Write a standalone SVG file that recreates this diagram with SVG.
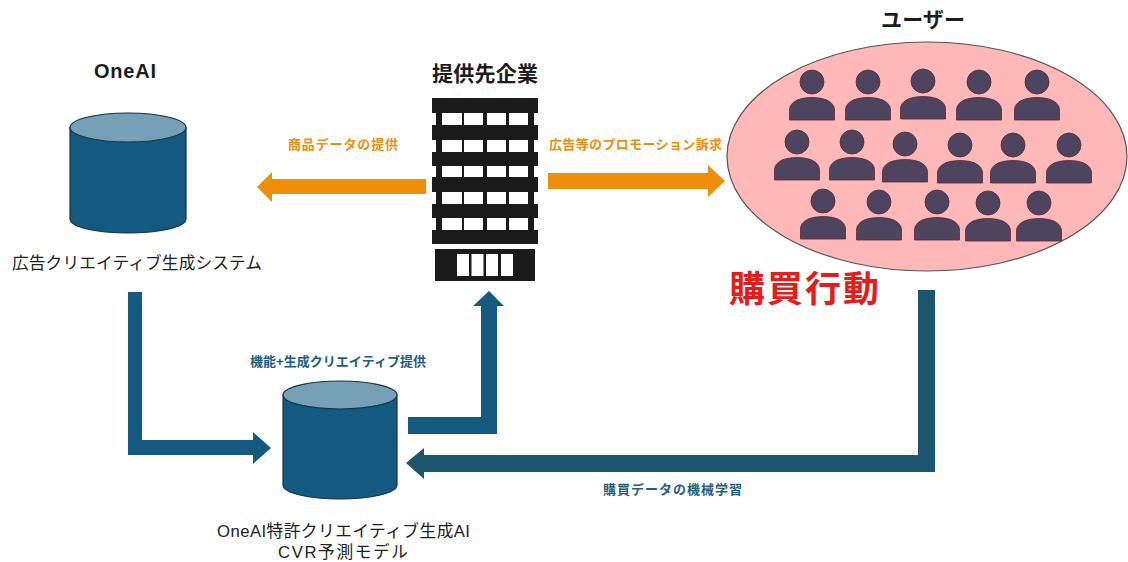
<svg xmlns="http://www.w3.org/2000/svg" xmlns:xlink="http://www.w3.org/1999/xlink" width="1128" height="562" viewBox="0 0 1128 562">
<style>
text{font-family:"Liberation Sans","Noto Sans CJK JP",sans-serif;text-anchor:middle;fill:#222}
.h{font-weight:700;fill:#1c1c1c}
.s{font-weight:700;font-size:13px}
.o{fill:#ee8e0b}
.b{fill:#1c5f80}
.cyl{fill:#14597f;stroke:#12354a;stroke-width:1.2}
.top{fill:#76a0b6;stroke:#12354a;stroke-width:1.2}
.p{fill:#4d4560;stroke:#5a2535;stroke-width:.8}
.win{fill:#fff}
</style>
<defs>
<g id="person"><circle cx="0" cy="0" r="12"/><path d="M-22.500 38V28C-22.500 20 -13 15.500 0 15.500S22.500 20 22.500 28V38Z"/></g>
</defs>
<rect width="1128" height="562" fill="#fff"/>
<g id="connectors">
<path id="c-provide" fill="#ee8e0b" d="M426 179H272V172L257 187L272 202V194H426Z"/>
<path id="c-promo" fill="#ee8e0b" d="M548 173H708V165L725 181L708 197V189H548Z"/>
<path id="c-gen" fill="#14597f" d="M128 292H142V440H253V432L271 448L253 464V455H128Z"/>
<path id="c-feature" fill="#14597f" d="M408 417H481V306H473L489 291L504 306H497V434H408Z"/>
<path id="c-learn" fill="#1c5570" d="M918 290H935V472H424V479L406 463L424 448V455H918Z"/>
</g>
<g id="node-oneai">
<text class="h" x="125" y="78" font-size="20" textLength="62">OneAI</text>
<path class="cyl" d="M70 127.500V219C70 227 96 233 128 233S186 227 186 219V127.500Z"/>
<ellipse class="top" cx="128" cy="127.500" rx="58" ry="14.500"/>
<text x="137" y="269" font-size="16.700" textLength="250">広告クリエイティブ生成システム</text>
</g>
<g id="node-company">
<text class="h" x="485" y="81" font-size="21" textLength="106">提供先企業</text>
<path fill="#1a1a1a" d="M432 98H538V113H534V125H538V140H534V152H538V166H534V177H538V192H534V204H538V218H534V230H538V244H432V230H436V218H432V204H436V192H432V177H436V166H432V152H436V140H432V125H436V113H432Z"/>
<g class="win">
<rect x="442" y="113" width="20" height="12"/><rect x="464" y="113" width="19" height="12"/><rect x="487" y="113" width="19" height="12"/><rect x="509" y="113" width="19" height="12"/>
<rect x="442" y="140" width="20" height="12"/><rect x="464" y="140" width="19" height="12"/><rect x="487" y="140" width="19" height="12"/><rect x="509" y="140" width="19" height="12"/>
<rect x="442" y="166" width="20" height="11"/><rect x="464" y="166" width="19" height="11"/><rect x="487" y="166" width="19" height="11"/><rect x="509" y="166" width="19" height="11"/>
<rect x="442" y="192" width="20" height="12"/><rect x="464" y="192" width="19" height="12"/><rect x="487" y="192" width="19" height="12"/><rect x="509" y="192" width="19" height="12"/>
<rect x="442" y="218" width="20" height="12"/><rect x="464" y="218" width="19" height="12"/><rect x="487" y="218" width="19" height="12"/><rect x="509" y="218" width="19" height="12"/>
</g>
<rect x="435" y="249" width="100" height="32" fill="#1a1a1a"/>
<g class="win">
<rect x="457" y="254" width="12" height="22"/><rect x="471.500" y="254" width="12" height="22"/><rect x="486" y="254" width="12" height="22"/><rect x="501" y="254" width="12" height="22"/>
</g>
</g>
<g id="node-users">
<text class="h" x="923" y="27" font-size="21" textLength="84">ユーザー</text>
<ellipse cx="927" cy="156.500" rx="200" ry="114.500" fill="#ffb8b8" stroke="#555" stroke-width="1.200"/>
<g class="p">
<use xlink:href="#person" href="#person" x="812" y="82"/>
<use xlink:href="#person" href="#person" x="868" y="82"/>
<use xlink:href="#person" href="#person" x="923" y="81"/>
<use xlink:href="#person" href="#person" x="979" y="82"/>
<use xlink:href="#person" href="#person" x="1037" y="82"/>
<use xlink:href="#person" href="#person" x="797" y="142"/>
<use xlink:href="#person" href="#person" x="852" y="142"/>
<use xlink:href="#person" href="#person" x="905" y="144"/>
<use xlink:href="#person" href="#person" x="960" y="145"/>
<use xlink:href="#person" href="#person" x="1013" y="145"/>
<use xlink:href="#person" href="#person" x="1069" y="145"/>
<use xlink:href="#person" href="#person" x="823" y="201"/>
<use xlink:href="#person" href="#person" x="879" y="202"/>
<use xlink:href="#person" href="#person" x="937" y="202"/>
<use xlink:href="#person" href="#person" x="988" y="203"/>
<use xlink:href="#person" href="#person" x="1039" y="203"/>
</g>
</g>
<g id="node-purchase">
<text x="804" y="302" font-size="36" font-weight="700" style="fill:#e81a1a" textLength="150">購買行動</text>
</g>
<g id="node-model">
<path class="cyl" d="M283 395V485C283 493 309 499 340 499S397 493 397 485V395Z"/>
<ellipse class="top" cx="340" cy="395" rx="57" ry="14"/>
<text x="343.500" y="537" font-size="16.700" textLength="253">OneAI特許クリエイティブ生成AI</text>
<text x="343" y="558" font-size="16.700" textLength="130">CVR予測モデル</text>
</g>
<g id="labels">
<text class="s o" x="343" y="148.500" textLength="110">商品データの提供</text>
<text class="s o" x="635.500" y="148.500" textLength="173">広告等のプロモーション訴求</text>
<text class="s b" x="338" y="365.500" textLength="176">機能+生成クリエイティブ提供</text>
<text class="s b" x="672.500" y="493.500" textLength="139">購買データの機械学習</text>
</g>
</svg>
